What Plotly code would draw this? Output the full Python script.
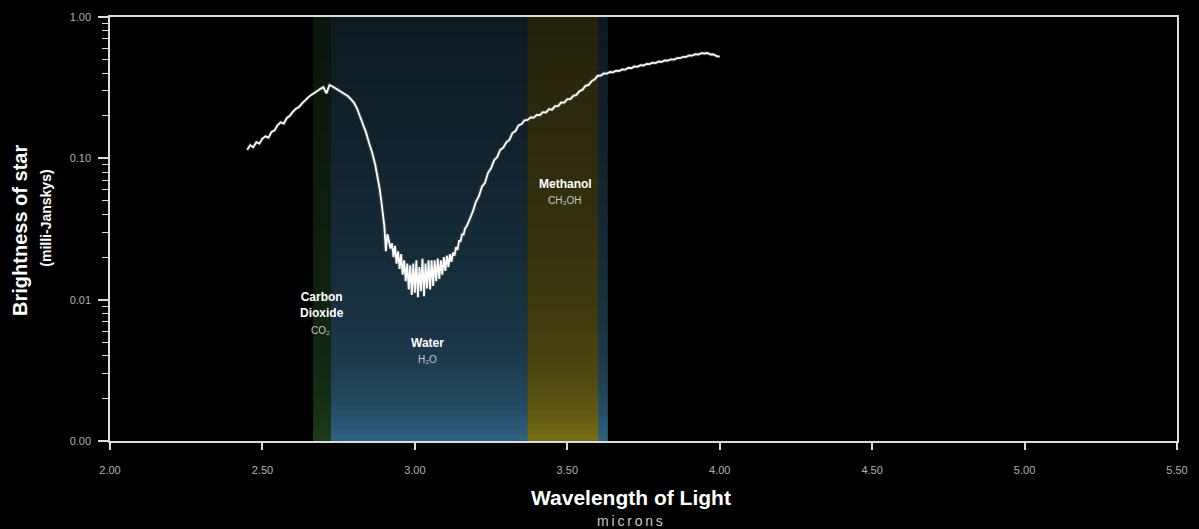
import math
import plotly.graph_objects as go

# Spectrum of the background star seen through the ice-rich cloud
wavelength_um = [
    2.45, 2.46, 2.47, 2.48, 2.49, 2.50, 2.51, 2.52, 2.53, 2.54,
    2.55, 2.56, 2.57, 2.58, 2.59, 2.60, 2.61, 2.62, 2.63, 2.64,
    2.65, 2.66, 2.67, 2.68, 2.69, 2.70, 2.71, 2.72, 2.73, 2.74,
    2.75, 2.76, 2.77, 2.78, 2.79, 2.80, 2.81, 2.82, 2.83, 2.84,
    2.85, 2.86, 2.87, 2.88,
    2.885, 2.890, 2.895, 2.900, 2.905, 2.910, 2.915, 2.920, 2.925, 2.930,
    2.935, 2.940, 2.945, 2.950, 2.955, 2.960, 2.965, 2.970, 2.975, 2.980,
    2.985, 2.990, 2.995, 3.000, 3.005, 3.010, 3.015, 3.020, 3.025, 3.030,
    3.035, 3.040, 3.045, 3.050, 3.055, 3.060, 3.065, 3.070, 3.075, 3.080,
    3.085, 3.090, 3.095, 3.100, 3.105, 3.110, 3.115, 3.120, 3.125, 3.130,
    3.135, 3.140, 3.145, 3.150, 3.155, 3.160, 3.165, 3.170, 3.175, 3.180,
    3.19, 3.20, 3.21, 3.22, 3.23, 3.24, 3.25, 3.26, 3.27, 3.28,
    3.29, 3.30, 3.31, 3.32, 3.33, 3.34, 3.35, 3.36, 3.37, 3.38,
    3.39, 3.40, 3.41, 3.42, 3.43, 3.44, 3.45, 3.46, 3.47, 3.48,
    3.49, 3.50, 3.51, 3.52, 3.53, 3.54, 3.55, 3.56, 3.57, 3.58,
    3.59, 3.60, 3.61, 3.62, 3.63, 3.64, 3.65, 3.66, 3.67, 3.68,
    3.69, 3.70, 3.71, 3.72, 3.73, 3.74, 3.75, 3.76, 3.77, 3.78,
    3.79, 3.80, 3.81, 3.82, 3.83, 3.84, 3.85, 3.86, 3.87, 3.88,
    3.89, 3.90, 3.91, 3.92, 3.93, 3.94, 3.95, 3.96, 3.97, 3.98,
    3.99, 4.00,
]

flux_mjy = [
    0.115, 0.124, 0.120, 0.130, 0.127, 0.138, 0.143, 0.140, 0.154, 0.158,
    0.172, 0.180, 0.176, 0.193, 0.200, 0.214, 0.224, 0.231, 0.245, 0.258,
    0.270, 0.281, 0.292, 0.299, 0.310, 0.318, 0.288, 0.330, 0.322, 0.312,
    0.303, 0.292, 0.285, 0.276, 0.262, 0.248, 0.226, 0.200, 0.176, 0.152,
    0.128, 0.110, 0.090, 0.070,
    0.060, 0.050, 0.040, 0.033, 0.022, 0.029, 0.026, 0.023, 0.025, 0.020,
    0.024, 0.018, 0.022, 0.0165, 0.021, 0.015, 0.019, 0.0135, 0.018, 0.0118,
    0.0175, 0.0108, 0.018, 0.0112, 0.019, 0.0104, 0.017, 0.0115, 0.0195, 0.0106,
    0.018, 0.0120, 0.019, 0.0118, 0.019, 0.0125, 0.019, 0.0135, 0.0195, 0.0140,
    0.019, 0.0150, 0.020, 0.0160, 0.0205, 0.0170, 0.021, 0.0185, 0.0215, 0.0205,
    0.0235, 0.0225, 0.026, 0.0260, 0.029, 0.0290, 0.032, 0.0330, 0.035, 0.0370,
    0.042, 0.049, 0.054, 0.063, 0.067, 0.079, 0.085, 0.097, 0.102, 0.115,
    0.119, 0.130, 0.135, 0.151, 0.156, 0.171, 0.175, 0.186, 0.187, 0.195,
    0.194, 0.203, 0.202, 0.212, 0.211, 0.223, 0.221, 0.234, 0.234, 0.249,
    0.248, 0.262, 0.262, 0.277, 0.281, 0.299, 0.306, 0.326, 0.331, 0.352,
    0.362, 0.384, 0.385, 0.399, 0.398, 0.408, 0.406, 0.417, 0.415, 0.425,
    0.424, 0.437, 0.434, 0.447, 0.444, 0.456, 0.454, 0.465, 0.464, 0.475,
    0.472, 0.484, 0.482, 0.493, 0.491, 0.502, 0.500, 0.512, 0.511, 0.523,
    0.522, 0.535, 0.533, 0.545, 0.543, 0.555, 0.552, 0.556, 0.543, 0.544,
    0.528, 0.524,
]

# Ice absorption bands (wavelength ranges in microns), drawn in this order
band_start_um = [2.666, 2.724, 3.370]
band_end_um = [2.724, 3.633, 3.601]
band_top_rgb = [(10, 22, 12), (13, 25, 32), (35, 33, 12)]
band_bottom_rgb = [(28, 62, 22), (48, 100, 132), (122, 112, 20)]

x_tickvals = [2.0, 2.5, 3.0, 3.5, 4.0, 4.5, 5.0, 5.5]
x_ticktext = ["2.00", "2.50", "3.00", "3.50", "4.00", "4.50", "5.00", "5.50"]
y_tickvals = [1.0, 0.1, 0.01, 0.001]
y_ticktext = ["1.00", "0.10", "0.01", "0.00"]
y_minor_tickvals = [
    0.9, 0.8, 0.7, 0.6, 0.5, 0.4, 0.3, 0.2,
    0.09, 0.08, 0.07, 0.06, 0.05, 0.04, 0.03, 0.02,
    0.009, 0.008, 0.007, 0.006, 0.005, 0.004, 0.003, 0.002,
]

FONT = "Liberation Sans, Arial, sans-serif"
AXIS_COLOR = "#dcdcdc"
TICK_FONT = dict(family=FONT, size=11, color="#b0b0b0")

fig = go.Figure()

# Vertical gradient for each band: dim at the top, brighter toward the floor
N_SLICES = 70
shapes = []
for x0, x1, top, bot in zip(band_start_um, band_end_um, band_top_rgb, band_bottom_rgb):
    for i in range(N_SLICES):
        t = (i + 0.5) / N_SLICES
        g = 0.6 * math.exp(-t / 0.12) + 0.4 * (1 - t)
        rgb = tuple(round(a + (b - a) * g) for a, b in zip(top, bot))
        shapes.append(dict(
            type="rect", xref="x", yref="y domain",
            x0=x0, x1=x1, y0=i / N_SLICES, y1=(i + 1) / N_SLICES + 0.002,
            fillcolor="rgb(%d,%d,%d)" % rgb, line=dict(width=0), layer="below",
        ))

# Faint halo under the spectrum line
fig.add_trace(go.Scatter(
    x=wavelength_um, y=flux_mjy, mode="lines",
    line=dict(color="rgba(255,255,255,0.15)", width=4),
    hoverinfo="skip", showlegend=False,
))
fig.add_trace(go.Scatter(
    x=wavelength_um, y=flux_mjy, mode="lines",
    line=dict(color="#ffffff", width=1.8),
    showlegend=False,
))

label_font = dict(family=FONT, size=12, color="#ffffff", weight="bold")
formula_font = dict(family=FONT, size=10, color="#c8c8c8")

annotations = [
    dict(x=2.695, y=-2.038, text="Carbon<br>Dioxide", font=label_font),
    dict(x=2.692, y=-2.215, text="CO\u2082", font=formula_font),
    dict(x=3.040, y=-2.307, text="Water", font=label_font),
    dict(x=3.040, y=-2.42, text="H\u2082O", font=formula_font),
    dict(x=3.495, y=-1.182, text="Methanol", font=label_font),
    dict(x=3.494, y=-1.30, text="CH\u2083OH", font=formula_font),
]
for a in annotations:
    a.update(xref="x", yref="y", showarrow=False, xanchor="center", yanchor="middle")

# Axis titles
annotations += [
    dict(xref="paper", yref="paper", x=(636 - 110) / 1078, y=(441 - 497) / 424,
         text="Wavelength of Light", showarrow=False,
         font=dict(family=FONT, size=21, color="#ffffff", weight="bold"),
         xanchor="center", yanchor="middle"),
    dict(xref="paper", yref="paper", x=(635 - 110) / 1078, y=(441 - 521) / 424,
         text="\u2009".join("microns"), showarrow=False,
         font=dict(family=FONT, size=14, color="#c8c8c8"),
         xanchor="center", yanchor="middle"),
    dict(xref="paper", yref="paper", x=(19 - 110) / 1078, y=(441 - 230) / 424,
         text="Brightness of star", textangle=-90, showarrow=False,
         font=dict(family=FONT, size=20, color="#ffffff", weight="bold"),
         xanchor="center", yanchor="middle"),
    dict(xref="paper", yref="paper", x=(45 - 110) / 1078, y=(441 - 218) / 424,
         text="(milli-Janskys)", textangle=-90, showarrow=False,
         font=dict(family=FONT, size=14, color="#ffffff", weight="bold"),
         xanchor="center", yanchor="middle"),
]

fig.update_layout(
    width=1199, height=529,
    margin=dict(l=110, r=11, t=17, b=88),
    paper_bgcolor="#000000", plot_bgcolor="#000000",
    shapes=shapes, annotations=annotations,
    showlegend=False,
)

fig.update_xaxes(
    type="linear", range=[2.0, 5.5],
    tickvals=x_tickvals, ticktext=x_ticktext,
    ticks="outside", ticklen=7, tickwidth=1.5, tickcolor=AXIS_COLOR,
    ticklabelstandoff=11, tickfont=TICK_FONT,
    showline=True, linecolor=AXIS_COLOR, linewidth=1.5, mirror=True,
    showgrid=False, zeroline=False,
)
fig.update_yaxes(
    type="log", range=[-3, 0],
    tickvals=y_tickvals, ticktext=y_ticktext,
    ticks="outside", ticklen=10, tickwidth=1.5, tickcolor=AXIS_COLOR,
    ticklabelstandoff=5, tickfont=TICK_FONT,
    minor=dict(tickmode="array", tickvals=y_minor_tickvals, ticks="outside",
               ticklen=6, tickwidth=1, tickcolor=AXIS_COLOR, showgrid=False),
    showline=True, linecolor=AXIS_COLOR, linewidth=1.5, mirror=True,
    showgrid=False, zeroline=False,
)

fig.write_html("out.html")
